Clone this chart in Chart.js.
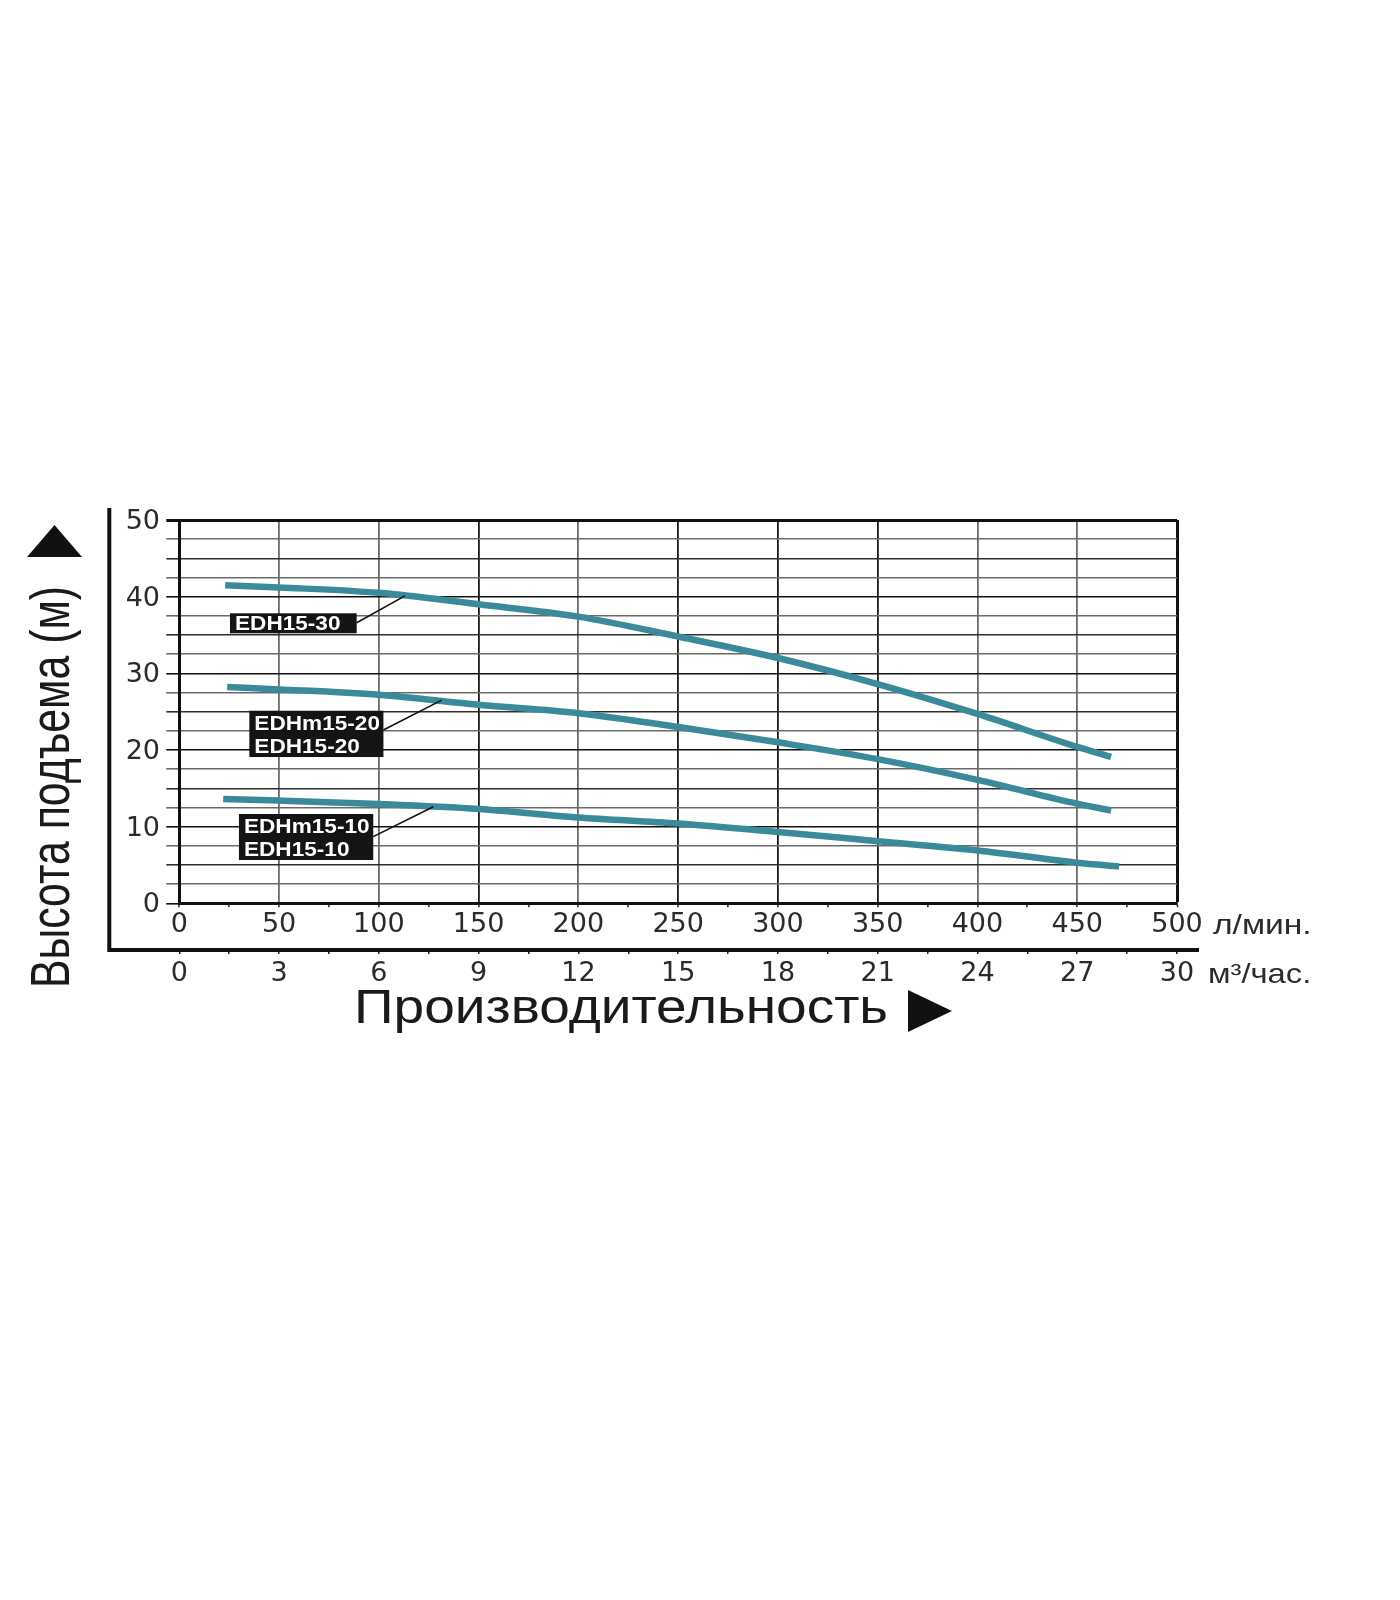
<!DOCTYPE html>
<html><head><meta charset="utf-8">
<script src="https://cdn.jsdelivr.net/npm/chart.js@4.4.0/dist/chart.umd.min.js"></script>
<style>html,body{margin:0;padding:0;background:#fff}#wrap{width:1400px;height:1600px;position:relative}canvas{display:block}</style>
</head><body><div id="wrap"><canvas id="c" width="1400" height="1600" style="width:1400px;height:1600px"></canvas></div>
<script>
// ---- data (flow in l/min, head in m) ----
const edh30Flow = [23, 50, 100, 150, 200, 250, 300, 350, 400, 450, 467];
const edh30Head = [41.5, 41.2, 40.5, 39.0, 37.4, 34.8, 32.0, 28.6, 24.7, 20.4, 19.1];
const edh20Flow = [24, 50, 100, 150, 200, 250, 300, 350, 400, 450, 467];
const edh20Head = [28.2, 27.9, 27.2, 25.9, 24.8, 23.0, 21.0, 18.8, 16.1, 13.0, 12.1];
const edh10Flow = [22, 50, 100, 150, 200, 250, 300, 350, 400, 450, 471];
const edh10Head = [13.6, 13.4, 12.95, 12.3, 11.2, 10.4, 9.3, 8.1, 6.9, 5.3, 4.8];
const seriesNames = ['EDH15-30', 'EDHm15-20 / EDH15-20', 'EDHm15-10 / EDH15-10'];
const flowMax = 500, flowStep = 25;       // l/min axis
const headMax = 50, headStep = 2.5;       // m axis
const m3Max = 30, m3Step = 1.5;           // m3/h axis
const yTitle = 'Высота подъема (м)';
const xTitle = 'Производительность';
const unitLpm = 'л/мин.';
const unitM3 = 'м³/час.';

const pts = (xs, ys) => xs.map((x, i) => ({x, y: ys[i]}));
const FONT = '"Liberation Sans", Arial, Helvetica, sans-serif';
const TICKFONT = '"DejaVu Sans", "Liberation Sans", sans-serif';
const LINE = '#3a8a9c';

// callout labels (in data units)
const callouts = [
  {lines: ['EDH15-30'], box: [25.4, 88.9, 37.83, 35.22], from: [88.9, 36.6], to: [113.1, 40.1]},
  {lines: ['EDHm15-20', 'EDH15-20'], box: [35.1, 102.3, 25.12, 19.08], from: [102.3, 22.6], to: [131.5, 26.5]},
  {lines: ['EDHm15-10', 'EDH15-10'], box: [29.9, 97.2, 11.65, 5.65], from: [97.2, 8.7], to: [127.3, 12.6]}
];

function sText(ctx, text, x, y, font, sx, align, color) {
  ctx.save();
  ctx.font = font; ctx.fillStyle = color || '#222';
  ctx.textAlign = align || 'left'; ctx.textBaseline = 'alphabetic';
  ctx.translate(x, y); ctx.scale(sx, 1);
  ctx.fillText(text, 0, 0);
  ctx.restore();
}

const deco = {
  id: 'deco',
  afterDatasetsDraw(chart) {
    const ctx = chart.ctx;
    const xs = chart.scales.x, ys = chart.scales.y;
    callouts.forEach(c => {
      const l = xs.getPixelForValue(c.box[0]), r = xs.getPixelForValue(c.box[1]);
      const t = ys.getPixelForValue(c.box[2]), b = ys.getPixelForValue(c.box[3]);
      ctx.save();
      ctx.strokeStyle = '#111'; ctx.lineWidth = 1.6;
      ctx.beginPath();
      ctx.moveTo(xs.getPixelForValue(c.from[0]), ys.getPixelForValue(c.from[1]));
      ctx.lineTo(xs.getPixelForValue(c.to[0]), ys.getPixelForValue(c.to[1]));
      ctx.stroke();
      ctx.fillStyle = '#141414';
      ctx.fillRect(l, t, r - l, b - t);
      ctx.restore();
      c.lines.forEach((txt, i) => {
        const base = c.lines.length === 1 ? b - 3 : t + 19 + i * 23;
        sText(ctx, txt, l + 5, base, 'bold 20px ' + FONT, 1.13, 'left', '#fff');
      });
    });
  },
  afterDraw(chart) {
    const ctx = chart.ctx, a = chart.chartArea, x2 = chart.scales.x2;
    const fl = a.left - 70, ft = a.top - 12, fb = x2.top, fr = a.right + 22;
    ctx.save();
    ctx.strokeStyle = '#111'; ctx.lineWidth = 4; ctx.lineCap = 'butt';
    ctx.beginPath();
    ctx.moveTo(fl, ft); ctx.lineTo(fl, fb + 2); ctx.moveTo(fl - 2, fb); ctx.lineTo(fr, fb);
    ctx.stroke();
    ctx.restore();
    sText(ctx, unitLpm, a.right + 36, chart.scales.x.top + 31, '28px ' + FONT, 1.2, 'left', '#2b2b2b');
    sText(ctx, unitM3, a.right + 31, x2.top + 33, '28px ' + FONT, 1.17, 'left', '#2b2b2b');
    // y title (rotated, condensed)
    ctx.save();
    ctx.font = '56px ' + FONT;
    const w = ctx.measureText(yTitle).width;
    ctx.translate(49, 787); ctx.rotate(-Math.PI / 2);
    ctx.scale(402 / w, 1);
    ctx.fillStyle = '#1a1a1a'; ctx.textAlign = 'center'; ctx.textBaseline = 'alphabetic';
    ctx.fillText(yTitle, 0, 20);
    ctx.restore();
    ctx.save(); ctx.fillStyle = '#111';
    ctx.beginPath(); ctx.moveTo(54.5, 525); ctx.lineTo(82, 557); ctx.lineTo(27, 557); ctx.closePath(); ctx.fill();
    ctx.restore();
    // x title
    ctx.save();
    ctx.font = '49px ' + FONT;
    const wx = ctx.measureText(xTitle).width;
    ctx.fillStyle = '#1a1a1a';
    ctx.translate(354, 1023); ctx.scale(534 / wx, 1);
    ctx.textAlign = 'left'; ctx.textBaseline = 'alphabetic';
    ctx.fillText(xTitle, 0, 0);
    ctx.restore();
    ctx.save(); ctx.fillStyle = '#111';
    ctx.beginPath(); ctx.moveTo(952, 1011); ctx.lineTo(908, 990); ctx.lineTo(908, 1032); ctx.closePath(); ctx.fill();
    ctx.restore();
  }
};

const tickFont = {family: TICKFONT, size: 27, lineHeight: 1};
const ds = (label, data) => ({
  label, data, borderColor: LINE, backgroundColor: LINE, borderWidth: 6.5,
  pointRadius: 0, pointHoverRadius: 0, tension: 0.4, cubicInterpolationMode: 'monotone',
  borderCapStyle: 'butt', fill: false
});
const tv = c => (c && c.tick ? c.tick.value : null);

new Chart(document.getElementById('c'), {
  type: 'line',
  data: {
    datasets: [
      ds(seriesNames[0], pts(edh30Flow, edh30Head)),
      ds(seriesNames[1], pts(edh20Flow, edh20Head)),
      ds(seriesNames[2], pts(edh10Flow, edh10Head))
    ]
  },
  options: {
    responsive: false, maintainAspectRatio: false, animation: false, devicePixelRatio: 1,
    layout: {padding: {left: 99.3, right: 223, top: 520, bottom: 600}},
    plugins: {legend: {display: false}, tooltip: {enabled: false}, title: {display: false}},
    scales: {
      x: {
        type: 'linear', position: 'bottom', weight: 0, min: 0, max: flowMax,
        afterFit: s => { s.height = 46.7; },
        ticks: {stepSize: flowStep, autoSkip: false, maxRotation: 0, padding: 4, color: '#2b2b2b', font: tickFont,
          callback: v => (v % 50 === 0 ? String(v) : '')},
        grid: {
          tickLength: 4,
          color: c => { const v = tv(c); if (v === null) return '#111'; if (v % 50 !== 0) return 'rgba(0,0,0,0)'; if (v === flowMax) return '#111'; return [150, 250, 300, 350].includes(v) ? '#1a1a1a' : '#6a6a6a'; },
          lineWidth: c => (tv(c) === flowMax ? 3 : 1.8),
          tickColor: '#222', tickWidth: 1.5
        },
        border: {display: true, color: '#111', width: 3}
      },
      x2: {
        type: 'linear', position: 'bottom', weight: 1, min: 0, max: m3Max,
        afterFit: s => { s.height = 50; },
        ticks: {stepSize: m3Step, autoSkip: false, maxRotation: 0, padding: 6, color: '#2b2b2b', font: tickFont,
          callback: v => (Math.abs(v % 3) < 1e-9 ? String(v) : '')},
        grid: {drawOnChartArea: false, tickLength: 4, color: '#222', tickColor: '#222', tickWidth: 1.5, lineWidth: 1.5},
        border: {display: false, color: '#222', width: 1}
      },
      y: {
        type: 'linear', position: 'left', min: 0, max: headMax,
        afterFit: s => { s.width = 80; },
        ticks: {stepSize: headStep, autoSkip: false, padding: 6.3, labelOffset: 2, color: '#2b2b2b', font: tickFont,
          callback: v => (v % 10 === 0 ? String(v) : '')},
        grid: {
          tickLength: 13,
          color: c => { const v = tv(c); if (v === null) return '#111'; if (v === headMax || v % 10 === 0) return '#111'; return v % 5 === 0 ? '#2e2e2e' : '#6a6a6a'; },
          lineWidth: c => (tv(c) === headMax ? 3 : 1.6)
        },
        border: {display: true, color: '#111', width: 3}
      }
    }
  },
  plugins: [deco]
});
</script>
</body></html>
